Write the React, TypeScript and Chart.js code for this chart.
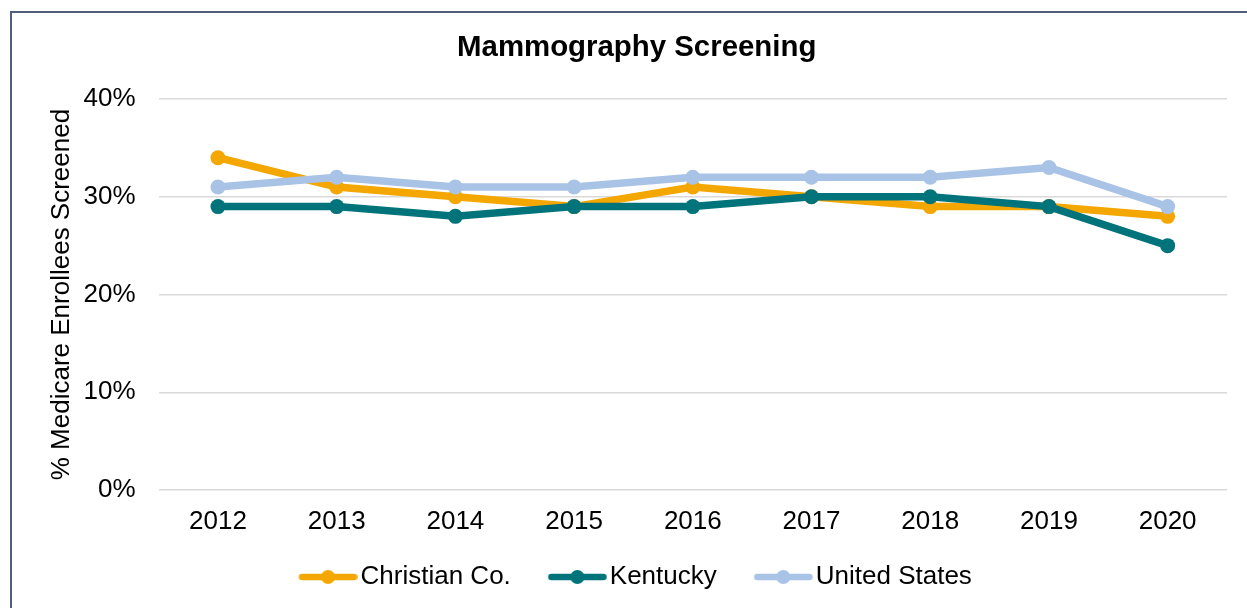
import React, { useEffect, useRef } from "react";
import { Chart, registerables } from "chart.js";

Chart.register(...registerables);

const years = ["2012", "2013", "2014", "2015", "2016", "2017", "2018", "2019", "2020"];
const christianCo = [34, 31, 30, 29, 31, 30, 29, 29, 28];
const kentucky = [29, 29, 28, 29, 29, 30, 30, 29, 25];
const unitedStates = [31, 32, 31, 31, 32, 32, 32, 33, 29];
const seriesNames = ["Christian Co.", "Kentucky", "United States"];
const seriesColors = ["#F4A700", "#00747A", "#A9C3E6"];

const FONT = '"Liberation Sans", Arial, Helvetica, sans-serif';
const LEGEND_BOX_W = 76;

function legendMarker(color: string): HTMLCanvasElement {
  const c = document.createElement("canvas");
  c.width = LEGEND_BOX_W + 20;
  c.height = 20;
  const ctx = c.getContext("2d")!;
  const start = c.width - 59;
  ctx.strokeStyle = color;
  ctx.lineWidth = 6.5;
  ctx.lineCap = "round";
  ctx.beginPath();
  ctx.moveTo(start + 3.5, 10);
  ctx.lineTo(c.width - 3.5, 10);
  ctx.stroke();
  ctx.fillStyle = color;
  ctx.beginPath();
  ctx.arc(start + 29.5, 10, 7, 0, Math.PI * 2);
  ctx.fill();
  return c;
}

export default function App() {
  const canvasRef = useRef<HTMLCanvasElement | null>(null);

  useEffect(() => {
    if (!canvasRef.current) return;
    const markers = seriesColors.map((c) => legendMarker(c));
    const values = [christianCo, kentucky, unitedStates];
    const shiftLegend = {
      id: "shiftLegend",
      afterLayout(chart: any) {
        const lg = chart.legend;
        if (lg) {
          lg.left -= 15;
          lg.right -= 15;
        }
      },
    };
    const chart = new Chart(canvasRef.current, {
      type: "line",
      data: {
        labels: years,
        datasets: values.map((v, i) => ({
          label: seriesNames[i],
          data: v,
          borderColor: seriesColors[i],
          backgroundColor: seriesColors[i],
          pointBackgroundColor: seriesColors[i],
          pointBorderColor: seriesColors[i],
          borderWidth: 7.5,
          pointRadius: 7.5,
          pointBorderWidth: 0,
          tension: 0,
          order: 3 - i,
        })),
      },
      options: {
        responsive: false,
        animation: false,
        layout: { padding: { left: 46.4, right: 20, top: 0, bottom: 8 } },
        plugins: {
          tooltip: { enabled: false },
          title: {
            display: true,
            text: "Mammography Screening",
            color: "#000",
            font: { family: FONT, size: 29.4, weight: "bold" },
            padding: { top: 30.4, bottom: 33.4 },
          },
          legend: {
            position: "bottom",
            labels: {
              usePointStyle: true,
              pointStyleWidth: LEGEND_BOX_W,
              padding: 10,
              color: "#000",
              font: { family: FONT, size: 26 },
              sort: (a: any, b: any) => a.datasetIndex - b.datasetIndex,
              generateLabels: (chart: any) => {
                const items = (Chart.defaults as any).plugins.legend.labels.generateLabels(chart);
                items.forEach((it: any) => {
                  it.pointStyle = markers[it.datasetIndex];
                });
                return items;
              },
            },
          },
        },
        scales: {
          x: {
            grid: { display: false, drawTicks: false },
            border: { display: false },
            offset: true,
            ticks: {
              color: "#000",
              font: { family: FONT, size: 26 },
              padding: 16,
              maxRotation: 0,
            },
            afterFit: (s: any) => {
              s.height = 64;
            },
          },
          y: {
            min: 0,
            max: 40,
            grid: { color: "#D9D9D9", lineWidth: 1.5, drawTicks: false },
            border: { display: false },
            ticks: {
              stepSize: 10,
              color: "#000",
              font: { family: FONT, size: 26 },
              padding: 23,
              callback: (v: any) => `${v}%`,
            },
            title: {
              display: true,
              text: "% Medicare Enrollees Screened",
              color: "#000",
              font: { family: FONT, size: 26 },
              padding: { top: 0, bottom: 0 },
            },
            afterFit: (s: any) => {
              s.width = 112.2;
            },
          },
        },
      },
      plugins: [shiftLegend],
    } as any);
    return () => chart.destroy();
  }, []);

  return (
    <div
      style={{
        position: "fixed",
        left: 0,
        top: 0,
        width: 1247,
        height: 608,
        overflow: "hidden",
        background: "#fff",
      }}
    >
      <div
        style={{
          position: "absolute",
          left: 10,
          top: 11,
          width: 1300,
          height: 700,
          border: "2px solid #4F5F7D",
          boxSizing: "border-box",
        }}
      />
      <canvas
        ref={canvasRef}
        width={1247}
        height={608}
        style={{ position: "absolute", left: 0, top: 0, width: 1247, height: 608 }}
      />
    </div>
  );
}
